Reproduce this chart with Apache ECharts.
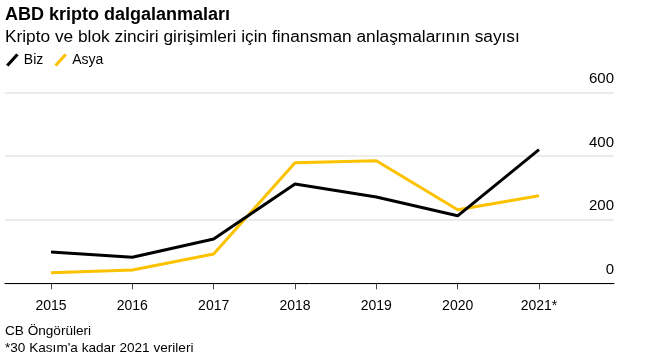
<!DOCTYPE html>
<html><head><meta charset="utf-8">
<script src="https://cdn.jsdelivr.net/npm/echarts@6/dist/echarts.min.js"></script>
<style>html,body{margin:0;padding:0;background:#fff}#c{width:645px;height:358px}</style>
</head><body><div id="c"></div>
<script>
const categories = ['2015','2016','2017','2018','2019','2020','2021*'];
const biz = [98, 82, 139, 312, 271, 212, 420];
const asya = [33, 42, 92, 379, 385, 231, 275];
const yTicks = [0, 200, 400, 600];

const FONT = 'Liberation Sans, Arial, sans-serif';
const chart = echarts.init(document.getElementById('c'));
const TOP = 92.3, BOTTOM = 358 - 283.3;
chart.setOption({
  animation: false,
  textStyle: { fontFamily: FONT },
  title: [
    { text: 'ABD kripto dalgalanmaları', left: 5, top: 6, padding: 0,
      textStyle: { fontSize: 18, fontWeight: 'bold', color: '#000', fontFamily: FONT } },
    { text: 'Kripto ve blok zinciri girişimleri için finansman anlaşmalarının sayısı', left: 5, top: 29, padding: 0,
      textStyle: { fontSize: 17.3, fontWeight: 'normal', color: '#000', fontFamily: FONT } },
    { text: 'CB Öngörüleri\n*30 Kasım\'a kadar 2021 verileri', left: 5, top: 323, padding: 0,
      textStyle: { fontSize: 13.6, fontWeight: 'normal', color: '#000', lineHeight: 17, fontFamily: FONT } }
  ],
  legend: {
    left: 6, top: 53, padding: 0, itemGap: 11, itemWidth: 13, itemHeight: 13,
    icon: 'path://M0,11 L10,0 L12.5,1.8 L2.5,12.8 Z',
    textStyle: { fontSize: 14, color: '#000', padding: [0, 0, 0, 0], fontFamily: FONT },
    data: ['Biz', 'Asya']
  },
  grid: [
    { left: 5, right: 645 - 614, top: TOP, bottom: BOTTOM },
    { left: 51, right: 645 - 539, top: TOP, bottom: BOTTOM }
  ],
  xAxis: [
    { gridIndex: 0, type: 'value', min: 0, max: 1,
      axisLine: { show: true, onZero: false, lineStyle: { color: '#000', width: 1 } },
      axisTick: { show: false }, axisLabel: { show: false }, splitLine: { show: false } },
    { gridIndex: 1, type: 'category', data: categories, boundaryGap: false,
      axisLine: { show: false },
      axisTick: { show: true, length: 6, alignWithLabel: true, lineStyle: { color: '#444', width: 1 } },
      axisLabel: { fontSize: 14, color: '#000', margin: 16, fontFamily: FONT },
      splitLine: { show: false } }
  ],
  yAxis: [
    { gridIndex: 0, type: 'value', position: 'right', min: 0, max: 600, interval: 200,
      axisLine: { show: false }, axisTick: { show: false },
      splitLine: { show: true, lineStyle: { color: '#e6e6e6', width: 1.5 } },
      axisLabel: { inside: true, margin: 0, fontSize: 15, color: '#000', verticalAlign: 'bottom',
        padding: [0, 0, 6, 0], fontFamily: FONT,
        formatter: v => yTicks.includes(v) ? String(v) : '' } },
    { gridIndex: 1, type: 'value', min: 0, max: 600, interval: 200, show: false }
  ],
  series: [
    { name: 'Biz', type: 'line', xAxisIndex: 1, yAxisIndex: 1, data: biz,
      showSymbol: false, symbol: 'none', color: '#000',
      lineStyle: { color: '#000', width: 3 }, z: 3 },
    { name: 'Asya', type: 'line', xAxisIndex: 1, yAxisIndex: 1, data: asya,
      showSymbol: false, symbol: 'none', color: '#fcc200',
      lineStyle: { color: '#fcc200', width: 3 }, z: 2 }
  ]
});
</script></body></html>
